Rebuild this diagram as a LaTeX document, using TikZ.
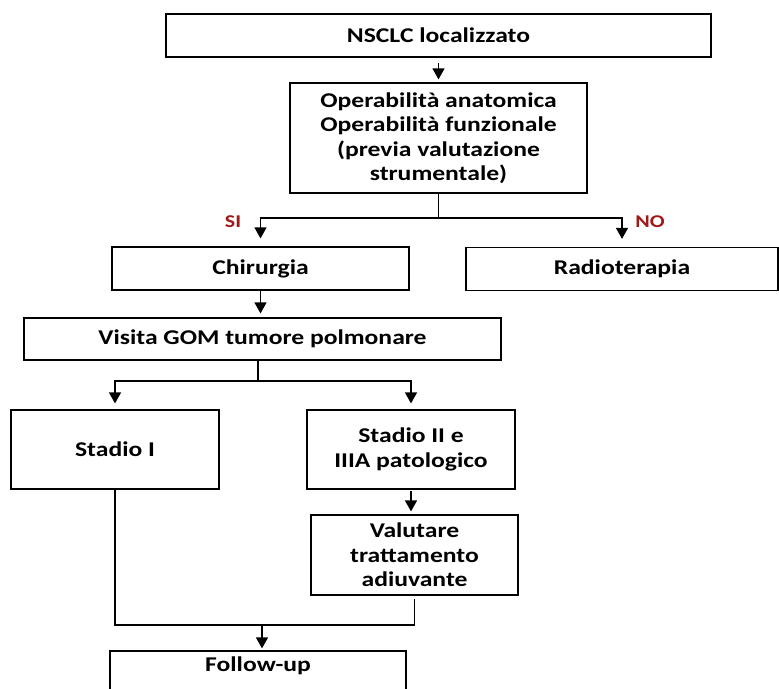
\documentclass[tikz,border=0pt]{standalone}
\usepackage{fontspec}
\setmainfont{Carlito}[FakeStretch=1.22]
\usetikzlibrary{arrows.meta}
\definecolor{sino}{RGB}{160,25,25}
\tikzset{
box/.style={draw,line width=1.2pt,align=center,inner sep=2pt,font=\fontsize{21}{24.5}\selectfont\bfseries},
arr/.style={line width=1.3pt,-{Triangle[length=11pt,width=12pt]}},
lin/.style={line width=1.3pt},
lab/.style={text=sino,font=\fontsize{18}{20}\selectfont\bfseries}
}
\begin{document}
\begin{tikzpicture}[x=1pt,y=1pt]
\useasboundingbox (0,0) rectangle (779,-688);
\node[box,minimum width=545,minimum height=43] (nsclc) at (438.5,-35.5) {NSCLC localizzato};
\node[box,minimum width=297,minimum height=110] (oper) at (438.5,-138) {Operabilità anatomica\\Operabilità funzionale\\(previa valutazione\\strumentale)};
\node[box,minimum width=297,minimum height=43] (chir) at (260.5,-268.5) {Chirurgia};
\node[box,minimum width=312,minimum height=43] (radio) at (622,-269) {Radioterapia};
\node[box,minimum width=477,minimum height=42] (visita) at (262.5,-339) {Visita GOM tumore polmonare};
\node[box,minimum width=208,minimum height=79] (st1) at (115,-449.5) {Stadio I};
\node[box,minimum width=208,minimum height=79] (st2) at (411,-449.5) {Stadio II e\\IIIA patologico};
\node[box,minimum width=207,minimum height=80] (val) at (414.5,-555) {Valutare\\trattamento\\adiuvante};
\node[box,minimum width=296,minimum height=50,text depth=24pt] (follow) at (258,-676) {Follow-up};
\coordinate (split1) at (438.5,-218);
\coordinate (split2) at (258,-381);
\coordinate (join) at (262,-625);
\draw[arr,shorten <=5pt,shorten >=3pt] (nsclc) -- (oper);
\draw[lin] (oper) -- (split1);
\draw[arr,shorten >=8pt] (split1) -| (chir.north);
\draw[arr,shorten >=8pt] (split1) -| (radio.north);
\draw[arr,shorten >=4pt] (chir.south) -- (chir.south |- visita.north);
\draw[lin] (visita.south -| split2) -- (split2);
\draw[arr,shorten >=6pt] (split2) -| (st1.north);
\draw[arr,shorten >=6pt] (split2) -| (st2.north);
\draw[arr,shorten <=1pt,shorten >=3pt] (st2.south) -- (st2.south |- val.north);
\draw[lin] (st1.south) |- (val.south |- join) -- ([yshift=-3pt]val.south);
\draw[arr,shorten >=2pt] (join) -- (join |- follow.north);
\node[lab] (si) at (233,-222) {SI};
\node[lab] (no) at (650,-222) {NO};
\end{tikzpicture}
\end{document}
